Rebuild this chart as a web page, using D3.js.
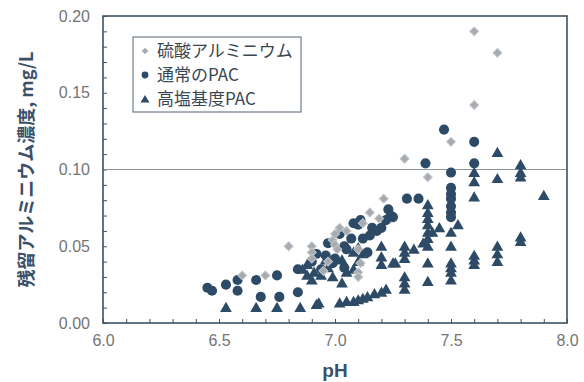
<!DOCTYPE html>
<html>
<head>
<meta charset="utf-8">
<script src="https://cdn.jsdelivr.net/npm/d3@7"></script>
<style>
  body { margin: 0; background: #fff; }
  svg { display: block; }
</style>
</head>
<body>
<svg id="chart" width="584" height="382"></svg>
<script>
// series labels (legend order)
var seriesNames = ["硫酸アルミニウム", "通常のPAC", "高塩基度PAC"];

// 硫酸アルミニウム  [pH, mg/L]
var alumSulfate = [
  [6.60,0.031],[6.70,0.031],[6.80,0.050],[6.90,0.050],[6.90,0.046],[6.90,0.042],
  [6.95,0.034],[6.97,0.040],[6.99,0.054],[7.00,0.051],[7.01,0.048],[7.00,0.058],
  [7.02,0.062],[7.05,0.060],[7.10,0.048],[7.11,0.039],[7.10,0.033],[7.10,0.030],
  [7.12,0.065],[7.15,0.072],[7.19,0.068],[7.21,0.081],
  [7.30,0.107],[7.40,0.095],[7.50,0.118],[7.60,0.142],[7.60,0.190],[7.70,0.176]
];

// 通常のPAC
var normalPac = [
  [6.45,0.023],[6.47,0.021],[6.53,0.025],[6.58,0.028],[6.58,0.021],[6.66,0.028],
  [6.68,0.017],[6.75,0.031],[6.76,0.017],[6.84,0.035],[6.84,0.020],
  [6.90,0.040],[6.92,0.045],[6.94,0.035],[6.96,0.044],[6.97,0.052],[6.99,0.039],
  [7.00,0.042],[7.02,0.058],[7.04,0.036],[7.04,0.050],[7.05,0.048],[7.07,0.055],
  [7.08,0.065],[7.10,0.064],[7.11,0.067],[7.12,0.055],[7.14,0.046],[7.15,0.057],
  [7.16,0.062],[7.18,0.060],[7.20,0.062],[7.22,0.067],[7.23,0.074],[7.24,0.070],
  [7.25,0.069],[7.31,0.081],[7.36,0.081],[7.39,0.104],[7.47,0.126],
  [7.50,0.098],[7.50,0.088],[7.50,0.084],[7.50,0.081],[7.50,0.076],[7.50,0.072],[7.50,0.069],
  [7.60,0.118],[7.60,0.104]
];

// 高塩基度PAC
var highBasicPac = [
  [6.53,0.010],[6.66,0.010],[6.75,0.010],[6.85,0.010],[6.92,0.012],
  [6.93,0.013],[7.02,0.013],[7.05,0.014],[7.08,0.014],[7.10,0.015],[7.12,0.016],
  [7.14,0.017],[7.17,0.019],[7.20,0.020],[7.22,0.022],
  [6.86,0.035],[6.88,0.031],[6.88,0.038],[6.90,0.028],[6.91,0.033],[6.94,0.031],
  [6.96,0.041],[6.97,0.036],[6.99,0.030],[7.03,0.026],[7.03,0.041],[7.05,0.033],
  [7.08,0.046],[7.08,0.035],[7.10,0.049],[7.10,0.040],[7.12,0.045],
  [7.20,0.050],[7.20,0.043],[7.20,0.038],[7.25,0.039],[7.26,0.039],
  [7.30,0.050],[7.30,0.046],[7.30,0.042],[7.30,0.030],[7.30,0.026],[7.30,0.022],
  [7.34,0.048],[7.38,0.052],
  [7.40,0.077],[7.40,0.072],[7.40,0.068],[7.40,0.064],[7.40,0.059],[7.40,0.055],
  [7.40,0.050],[7.40,0.039],[7.40,0.027],
  [7.42,0.059],[7.45,0.062],[7.53,0.064],
  [7.50,0.059],[7.50,0.050],[7.50,0.039],[7.50,0.036],[7.50,0.033],[7.50,0.028],
  [7.60,0.098],[7.60,0.092],[7.60,0.082],[7.60,0.044],[7.60,0.041],[7.60,0.038],
  [7.70,0.111],[7.70,0.094],[7.70,0.050],[7.70,0.045],[7.70,0.040],
  [7.80,0.103],[7.80,0.098],[7.80,0.095],[7.80,0.056],[7.80,0.053],
  [7.90,0.083]
];

var xTicks = [6.0, 6.5, 7.0, 7.5, 8.0];
var yTicks = [0.00, 0.05, 0.10, 0.15, 0.20];
var limitValue = 0.10;

var navy = "#2d4b66", light = "#a6abb1", frame = "#3c5168";

var svg = d3.select("#chart"),
    margin = {top: 16, right: 17, bottom: 59, left: 103},
    width = +svg.attr("width") - margin.left - margin.right,
    height = +svg.attr("height") - margin.top - margin.bottom,
    g = svg.append("g").attr("transform", "translate(" + margin.left + "," + margin.top + ")");

var x = d3.scaleLinear().domain([6.0, 8.0]).range([0, width]);
var y = d3.scaleLinear().domain([0, 0.20]).range([height, 0]);

// minor ticks, pointing inward
g.append("g")
    .attr("transform", "translate(0," + height + ")")
    .call(d3.axisTop(x).ticks(20).tickSize(4).tickFormat(""))
    .call(function(a) { a.select(".domain").remove(); a.selectAll("line").attr("stroke", frame); });

g.append("g")
    .call(d3.axisRight(y).ticks(20).tickSize(4).tickFormat(""))
    .call(function(a) { a.select(".domain").remove(); a.selectAll("line").attr("stroke", frame); });

// tick labels
g.append("g")
    .attr("transform", "translate(0," + height + ")")
    .call(d3.axisBottom(x).tickValues(xTicks).tickSize(0).tickPadding(12).tickFormat(d3.format(".1f")))
    .call(function(a) {
      a.select(".domain").remove();
      a.selectAll("text").attr("fill", "#747474").style("font", "16px 'Liberation Sans', Arial, sans-serif");
    });

g.append("g")
    .call(d3.axisLeft(y).tickValues(yTicks).tickSize(0).tickPadding(13).tickFormat(d3.format(".2f")))
    .call(function(a) {
      a.select(".domain").remove();
      a.selectAll("text").attr("fill", "#747474").style("font", "16px 'Liberation Sans', Arial, sans-serif");
    });

// 0.10 guide line
g.append("line")
    .attr("x1", 0).attr("x2", width)
    .attr("y1", y(limitValue)).attr("y2", y(limitValue))
    .attr("stroke", "#8d959c").attr("stroke-width", 1);

// plot frame
g.append("rect")
    .attr("width", width).attr("height", height)
    .attr("fill", "none").attr("stroke", frame).attr("stroke-width", 1.6);

var circleSym = d3.symbol().type(d3.symbolCircle).size(80);
var triSym = d3.symbol().type(d3.symbolTriangle).size(60);
var diaSym = d3.symbol().type(d3.symbolSquare).size(40);

g.append("g").selectAll("path")
    .data(normalPac).join("path")
    .attr("d", circleSym)
    .attr("transform", function(d) { return "translate(" + x(d[0]) + "," + y(d[1]) + ")"; })
    .attr("fill", navy);

g.append("g").selectAll("path")
    .data(highBasicPac).join("path")
    .attr("d", triSym)
    .attr("transform", function(d) { return "translate(" + x(d[0]) + "," + (y(d[1]) + 1) + ")"; })
    .attr("fill", navy);

g.append("g").selectAll("path")
    .data(alumSulfate).join("path")
    .attr("d", diaSym)
    .attr("transform", function(d) { return "translate(" + x(d[0]) + "," + y(d[1]) + ") rotate(45)"; })
    .attr("fill", light).attr("stroke", "#c3c7cb").attr("stroke-width", 1);

// legend
var legend = svg.append("g").attr("transform", "translate(133,37)");
legend.append("rect")
    .attr("width", 168).attr("height", 75)
    .attr("fill", "#fff").attr("stroke", "#6f7d8a").attr("stroke-width", 1.2);

seriesNames.forEach(function(name, i) {
  var row = legend.append("g").attr("transform", "translate(0," + (14 + i * 24) + ")");
  var sym = row.append("path")
      .attr("fill", i === 0 ? light : navy);
  if (i === 0) {
    sym.attr("d", d3.symbol().type(d3.symbolSquare).size(22))
       .attr("transform", "translate(12,0) rotate(45)");
  } else if (i === 1) {
    sym.attr("d", d3.symbol().type(d3.symbolCircle).size(36)).attr("transform", "translate(12,0)");
  } else {
    sym.attr("d", d3.symbol().type(d3.symbolTriangle).size(34)).attr("transform", "translate(12,1)");
  }
  row.append("text")
      .attr("x", 24).attr("dy", "0.35em")
      .attr("fill", "#3a4753")
      .style("font", "17px 'Noto Sans CJK JP', sans-serif")
      .text(name);
});

// axis titles
svg.append("text")
    .attr("transform", "translate(27," + (margin.top + height / 2) + ") rotate(-90)")
    .attr("text-anchor", "middle").attr("dy", "0.35em")
    .attr("fill", "#3a5068")
    .style("font", "bold 18px 'Noto Sans CJK JP', sans-serif")
    .text("残留アルミニウム濃度, mg/L");

svg.append("text")
    .attr("x", margin.left + width / 2).attr("y", 370)
    .attr("text-anchor", "middle").attr("dy", "0.35em")
    .attr("fill", "#3a5068")
    .style("font", "bold 19px 'Liberation Sans', Arial, sans-serif")
    .text("pH");
</script>
</body>
</html>
